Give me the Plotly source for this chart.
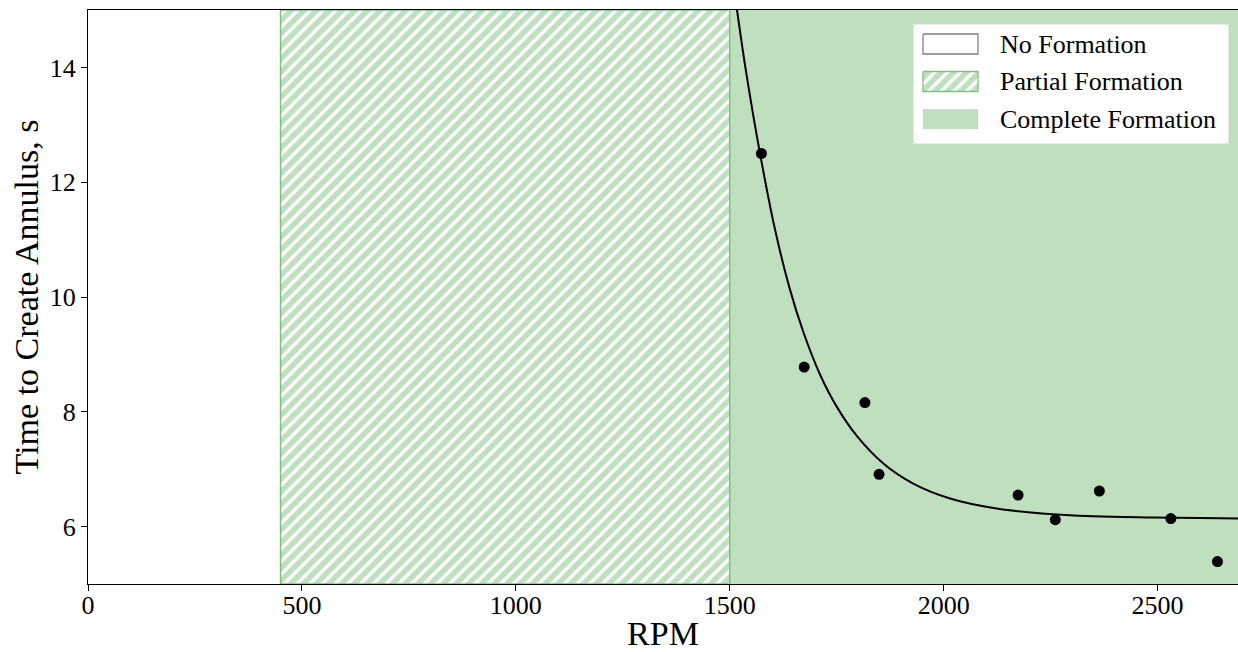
import plotly.graph_objects as go

# ---- data ----
rpm = [1574, 1674, 1816, 1849, 2174, 2261, 2364, 2531, 2640]
time_s = [12.5, 8.78, 8.16, 6.91, 6.55, 6.12, 6.62, 6.14, 5.39]

fit_rpm = [1505, 1517, 1537, 1572, 1606, 1640, 1672, 1711, 1750, 1797, 1859, 1929, 2015,
           2120, 2230, 2350, 2480, 2600, 2700]
fit_time = [15.65, 15.0, 13.98, 12.45, 11.17, 10.15, 9.39, 8.65, 8.09, 7.58, 7.10, 6.75, 6.49,
            6.32, 6.23, 6.18, 6.16, 6.15, 6.14]

region_edges = [0, 450, 1500, 2700]        # no / partial / complete formation boundaries
region_names = ["No Formation", "Partial Formation", "Complete Formation"]
y_limits = [5, 15]
x_limits = [0, 2688]
x_ticks = [0, 500, 1000, 1500, 2000, 2500]
y_ticks = [6, 8, 10, 12, 14]

FONT = "Liberation Serif, Times New Roman, serif"
HATCH = "#7fbf7f"
SOLID = "rgba(0,128,0,0.25)"

W, H = 1238, 652
ML, MR, MT, MB = 88, 0, 10, 68

fig = go.Figure()

def box(x0, x1, y0, y1):
    return [x0, x0, x1, x1, x0], [y0, y1, y1, y0, y0]

# complete formation region
bx, by = box(region_edges[2], region_edges[3], y_limits[0], y_limits[1])
fig.add_trace(go.Scatter(x=bx, y=by, fill="toself", mode="lines",
                         fillcolor=SOLID, line=dict(width=0), hoverinfo="skip",
                         showlegend=False))
# partial formation region (hatched)
bx, by = box(region_edges[1], region_edges[2], y_limits[0], y_limits[1])
fig.add_trace(go.Scatter(x=bx, y=by, fill="toself", mode="lines",
                         fillcolor="white",
                         fillpattern=dict(shape="/", fgcolor=HATCH, bgcolor="white",
                                          size=9, solidity=0.62),
                         line=dict(width=1.5, color=HATCH), hoverinfo="skip",
                         showlegend=False))
# fitted curve
fig.add_trace(go.Scatter(x=fit_rpm, y=fit_time, mode="lines", line_shape="spline",
                         line=dict(color="black", width=2), showlegend=False))
# measurements
fig.add_trace(go.Scatter(x=rpm, y=time_s, mode="markers",
                         marker=dict(color="black", size=11), showlegend=False))

# ---- custom legend on a pixel-unit helper axis (screen pixel units) ----
LX0, LX1, LY0, LY1 = 913, 1229, 24, 144
plot_w = W - ML - MR
plot_h = H - MT - MB
def px_to_paper_x(px):
    return (px - ML) / plot_w
def px_to_paper_y(py):
    return (H - MB - py) / plot_h

r = 4
legend_path = (f"M{LX0+r},{LY0} L{LX1-r},{LY0} Q{LX1},{LY0} {LX1},{LY0+r} "
               f"L{LX1},{LY1-r} Q{LX1},{LY1} {LX1-r},{LY1} L{LX0+r},{LY1} "
               f"Q{LX0},{LY1} {LX0},{LY1-r} L{LX0},{LY0+r} Q{LX0},{LY0} {LX0+r},{LY0} Z")
fig.add_shape(type="path", path=legend_path, xref="x2", yref="y2",
              fillcolor="rgba(255,255,255,0.8)", line=dict(color="rgba(204,204,204,0.8)", width=1),
              layer="below")

patch_x0, patch_x1 = 923, 978
row_centers = [44, 81.5, 119]
patch_h = 20
for i, (name, yc) in enumerate(zip(region_names, row_centers)):
    bx, by = box(patch_x0, patch_x1, yc - patch_h / 2, yc + patch_h / 2)
    if i == 0:
        tr = go.Scatter(x=bx, y=by, fill="toself", mode="lines", fillcolor="white",
                        line=dict(color="#808080", width=1.3))
    elif i == 1:
        tr = go.Scatter(x=bx, y=by, fill="toself", mode="lines", fillcolor="rgba(0,0,0,0)",
                        fillpattern=dict(shape="/", fgcolor=HATCH, bgcolor="rgba(255,255,255,0.6)",
                                         size=9, solidity=0.62),
                        line=dict(color=HATCH, width=1.3))
    else:
        tr = go.Scatter(x=bx, y=by, fill="toself", mode="lines", fillcolor=SOLID,
                        line=dict(width=0))
    tr.update(xaxis="x2", yaxis="y2", hoverinfo="skip", showlegend=False)
    fig.add_trace(tr)
    fig.add_annotation(x=998, y=yc, xref="x2", yref="y2", text=name, showarrow=False,
                       xanchor="left", yanchor="middle",
                       font=dict(family=FONT, size=26, color="black"))

axis_common = dict(showgrid=False, zeroline=False, showline=True, linecolor="black",
                   linewidth=1, ticks="outside", ticklen=6, tickwidth=1, tickcolor="black",
                   tickfont=dict(family=FONT, size=26, color="black"))

fig.update_layout(
    width=W, height=H,
    margin=dict(l=ML, r=MR, t=MT, b=MB, autoexpand=False),
    paper_bgcolor="white", plot_bgcolor="white",
    showlegend=False,
    xaxis=dict(range=x_limits, tickvals=x_ticks, mirror=True, ticklabelstandoff=-8,
               title=dict(text="RPM", font=dict(family=FONT, size=34, color="black"), standoff=15),
               **axis_common),
    yaxis=dict(range=y_limits, tickvals=y_ticks,
               title=dict(text="Time to Create Annulus, s",
                          font=dict(family=FONT, size=34, color="black"), standoff=0),
               **axis_common),
    xaxis2=dict(domain=[px_to_paper_x(LX0), px_to_paper_x(LX1)], range=[LX0, LX1],
                visible=False, anchor="y2", fixedrange=True),
    yaxis2=dict(domain=[px_to_paper_y(LY1), px_to_paper_y(LY0)], range=[LY1, LY0],
                visible=False, anchor="x2", fixedrange=True),
)

# remove the browser's default page margin so the figure fills the window exactly
fig.write_html("out.html", config={"displayModeBar": False},
               post_script="document.body.style.margin='0';")
